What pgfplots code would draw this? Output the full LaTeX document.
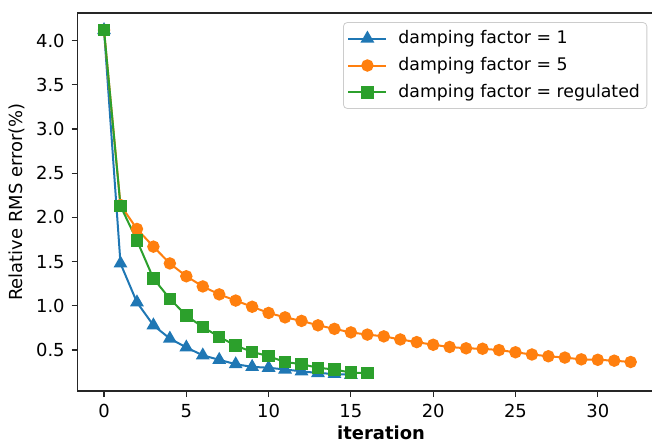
\documentclass[border=0pt]{standalone}
\usepackage{fontspec}
\setmainfont{DejaVu Sans}
\usepackage{pgfplots}
\pgfplotsset{compat=1.18}
\definecolor{tblue}{HTML}{1F77B4}
\definecolor{torange}{HTML}{FF7F0E}
\definecolor{tgreen}{HTML}{2CA02C}
\begin{document}
\begin{tikzpicture}
\path[use as bounding box] (-38.85bp,-26bp) rectangle (287.15bp,195.5bp);
\clip (-38.85bp,-26bp) rectangle (287.15bp,195.5bp);
\begin{axis}[
  at={(0,0)}, anchor=south west,
  scale only axis,
  width=289.65bp, height=189bp,
  xmin=-1.6, xmax=33.6,
  ymin=0.037, ymax=4.313,
  xtick={0,5,...,30},
  ytick={0.5,1.0,1.5,2.0,2.5,3.0,3.5,4.0},
  yticklabel style={/pgf/number format/fixed,/pgf/number format/fixed zerofill,/pgf/number format/precision=1},
  /pgf/number format/assume math mode=true,
  tick pos=left,
  tick align=outside,
  major tick length=3bp,
  every tick/.style={black!85, line width=0.6bp},
  axis line style={black!85, line width=0.7bp},
  ticklabel style={font=\fontsize{9}{10}\selectfont},
  xlabel={\textbf{iteration}},
  ylabel={Relative RMS error(\%)},
  label style={font=\fontsize{9}{10}\selectfont},
  xlabel style={at={(axis description cs:0.5236,0)}, anchor=north, yshift=-14bp},
  ylabel style={yshift=-1bp},
  legend cell align=left,
  legend style={at={(axis description cs:0.458,0.976)}, anchor=north west,
    font=\fontsize{8.7}{10}\selectfont, draw=black!20, rounded corners=2bp,
    fill=white, row sep=2.4bp, inner xsep=2bp, inner ysep=2.5bp,
    nodes={inner sep=1.5bp},
    /tikz/every odd column/.append style={column sep=4bp}},
  legend image code/.code={\draw[mark repeat=2,mark phase=2,#1] plot coordinates {(0bp,0bp) (9.5bp,0bp) (19bp,0bp)};},
  every axis plot/.append style={line width=1bp},
]
\addplot[tblue, mark=triangle*, mark size=3bp, mark options={solid}] coordinates {
(0,4.12) (1,1.48) (2,1.04) (3,0.78) (4,0.63) (5,0.53) (6,0.44) (7,0.39) (8,0.34)
(9,0.31) (10,0.30) (11,0.28) (12,0.26) (13,0.24) (14,0.23) (15,0.22)};
\addlegendentry{damping factor = 1}
\addplot[torange, mark=*, mark size=2.6bp] coordinates {
(0,4.12) (1,2.14) (2,1.87) (3,1.67) (4,1.48) (5,1.335) (6,1.22) (7,1.13) (8,1.06)
(9,0.99) (10,0.92) (11,0.87) (12,0.83) (13,0.78) (14,0.74) (15,0.70) (16,0.675)
(17,0.655) (18,0.62) (19,0.59) (20,0.56) (21,0.535) (22,0.52) (23,0.515) (24,0.50)
(25,0.475) (26,0.45) (27,0.43) (28,0.415) (29,0.395) (30,0.39) (31,0.38) (32,0.365)};
\addlegendentry{damping factor = 5}
\addplot[tgreen, mark=square*, mark size=2.6bp] coordinates {
(0,4.12) (1,2.13) (2,1.74) (3,1.31) (4,1.08) (5,0.89) (6,0.76) (7,0.65) (8,0.55)
(9,0.48) (10,0.43) (11,0.365) (12,0.34) (13,0.30) (14,0.28) (15,0.245) (16,0.24)};
\addlegendentry{damping factor = regulated}
\end{axis}
\end{tikzpicture}
\end{document}
